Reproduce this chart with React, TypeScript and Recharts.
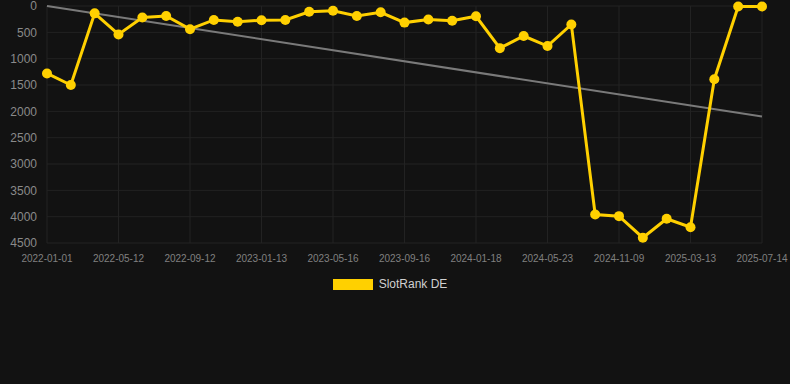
import React from 'react';
import { LineChart, Line, XAxis, YAxis, CartesianGrid, Legend } from 'recharts';

// dates on the x axis; only every third one is labelled in the chart
const dates = [
  '2022-01-01', '2022-02-14', '2022-03-29',
  '2022-05-12', '2022-06-22', '2022-08-02',
  '2022-09-12', '2022-10-23', '2022-12-03',
  '2023-01-13', '2023-02-23', '2023-04-05',
  '2023-05-16', '2023-06-26', '2023-08-06',
  '2023-09-16', '2023-10-27', '2023-12-08',
  '2024-01-18', '2024-02-29', '2024-04-11',
  '2024-05-23', '2024-07-19', '2024-09-14',
  '2024-11-09', '2024-12-20', '2025-01-31',
  '2025-03-13', '2025-04-23', '2025-06-03',
  '2025-07-14',
];

// rank in SlotRank DE (lower is better, axis is reversed)
const slotRank = [
  1280, 1500, 140, 540, 220, 190, 440, 265, 300, 270, 265,
  110, 90, 190, 120, 315, 255, 280, 195, 800, 570, 760, 350,
  3960, 3990, 4400, 4040, 4200, 1390, 10, 10,
];

// trend line: only its two end points, joined straight
const trendStart = 0;
const trendEnd = 2100;

const yTicks = [0, 500, 1000, 1500, 2000, 2500, 3000, 3500, 4000, 4500];

const YELLOW = '#ffd000';
const FONT = '"Liberation Sans", Arial, sans-serif';

const data = dates.map((date, i) => ({
  date,
  rank: slotRank[i],
  trend: i === 0 ? trendStart : i === dates.length - 1 ? trendEnd : null,
}));

function LegendBox() {
  return (
    <div
      style={{
        height: 22,
        display: 'flex',
        alignItems: 'center',
        justifyContent: 'center',
        paddingRight: 10,
        fontFamily: FONT,
        fontSize: 12,
        color: '#d0d0d0',
      }}
    >
      <span
        style={{
          display: 'inline-block',
          width: 40,
          height: 11,
          background: YELLOW,
          marginRight: 6,
        }}
      />
      SlotRank DE
    </div>
  );
}

export default function App() {
  return (
    <div
      style={{
        position: 'absolute',
        left: 0,
        top: 0,
        width: 790,
        height: 384,
        background: '#121212',
      }}
    >
      <LineChart
        width={790}
        height={300}
        data={data}
        margin={{ top: 6, right: 28, bottom: 5, left: 0 }}
      >
        <CartesianGrid stroke="#222222" strokeWidth={1} />
        <XAxis
          dataKey="date"
          interval={2}
          axisLine={false}
          tickLine={false}
          tickMargin={6}
          tick={{ fill: '#808080', fontSize: 10, fontFamily: FONT }}
        />
        <YAxis
          reversed
          domain={[0, 4500]}
          ticks={yTicks}
          interval={0}
          width={47}
          axisLine={false}
          tickLine={false}
          tickMargin={4}
          tick={{ fill: '#8a8a8a', fontSize: 12, fontFamily: FONT }}
        />
        <Legend
          verticalAlign="bottom"
          wrapperStyle={{ left: 0, width: 790 }}
          content={() => <LegendBox />}
        />
        <Line
          dataKey="trend"
          stroke="#7a7a7a"
          strokeWidth={2}
          dot={false}
          connectNulls
          isAnimationActive={false}
          legendType="none"
        />
        <Line
          dataKey="rank"
          name="SlotRank DE"
          stroke={YELLOW}
          strokeWidth={3}
          dot={{ r: 5, fill: YELLOW, stroke: 'none' }}
          activeDot={false}
          isAnimationActive={false}
        />
      </LineChart>
    </div>
  );
}
